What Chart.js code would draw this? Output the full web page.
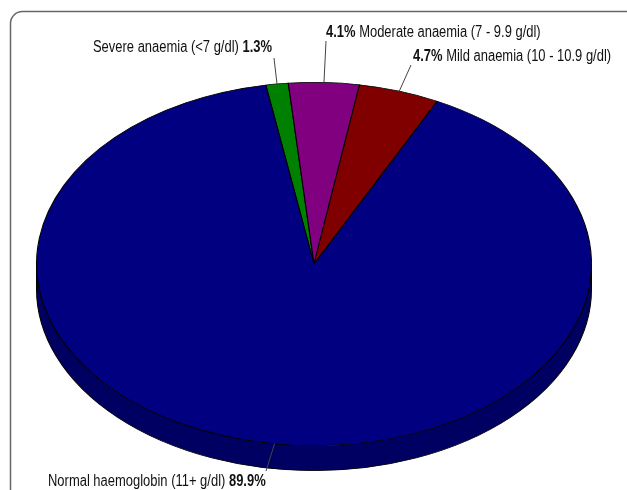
<!DOCTYPE html>
<html><head><meta charset="utf-8">
<script src="https://cdn.jsdelivr.net/npm/chart.js@4"></script>
<style>html,body{margin:0;padding:0;background:#fff;overflow:hidden}canvas{display:block}</style>
</head><body>
<canvas id="c" width="627" height="490"></canvas>
<script>
const categories = ["Severe anaemia (<7 g/dl)", "Moderate anaemia (7 - 9.9 g/dl)", "Mild anaemia (10 - 10.9 g/dl)", "Normal haemoglobin (11+ g/dl)"];
const percentages = [1.3, 4.1, 4.7, 89.9];
const sliceColors = ["#008000", "#800080", "#800000", "#000080"];
const sideColors = ["#005800", "#580058", "#580000", "#000062"];

const FONT = '"Liberation Sans Narrow", "Arial Narrow", "Liberation Sans", Arial, sans-serif';
const TEXT_SX = 0.81;
const ELLIPSE_SX = 278 / 182;
const DEPTH = 25;

const labelLayout = [
  {pctFirst: false, lx: 274, ly: 58, tx: 272, ty: 48, align: 'right'},
  {pctFirst: true,  lx: 326, ly: 41, tx: 326, ty: 33, align: 'left'},
  {pctFirst: true,  lx: 411, ly: 65, tx: 413, ty: 57, align: 'left'},
  {pctFirst: false, lx: 266, ly: 471, tx: 48, ty: 482, align: 'left'}
];

const pie3d = {
  id: 'pie3d',
  beforeDraw(chart) {
    const ctx = chart.ctx;
    ctx.save();
    ctx.fillStyle = '#fff';
    ctx.fillRect(0, 0, chart.width, chart.height);
    ctx.strokeStyle = '#666';
    ctx.lineWidth = 1.5;
    ctx.beginPath();
    ctx.roundRect(10.5, 11.5, 700, 600, 12);
    ctx.stroke();
    ctx.restore();
  },
  beforeDatasetsDraw(chart) {
    const ctx = chart.ctx;
    const meta = chart.getDatasetMeta(0);
    const cx = meta.data[0].x, cy = meta.data[0].y;
    ctx.save();
    ctx.translate(cx, cy); ctx.scale(ELLIPSE_SX, 1); ctx.translate(-cx, -cy);
    meta.data.forEach((arc, i) => {
      const s0 = arc.startAngle, e0 = arc.endAngle, R = arc.outerRadius;
      for (let k = -1; k <= 1; k++) {
        const s = Math.max(s0, 2 * Math.PI * k), e = Math.min(e0, Math.PI + 2 * Math.PI * k);
        if (e > s) {
          ctx.beginPath();
          ctx.arc(cx, cy, R, s, e);
          ctx.arc(cx, cy + DEPTH, R, e, s, true);
          ctx.closePath();
          ctx.fillStyle = sideColors[i];
          ctx.fill();
          ctx.lineWidth = 0.7;
          ctx.strokeStyle = '#000';
          ctx.stroke();
        }
      }
    });
  },
  afterDatasetsDraw(chart) {
    const ctx = chart.ctx;
    ctx.restore();
    const meta = chart.getDatasetMeta(0);
    ctx.save();
    meta.data.forEach((arc, i) => {
      const L = labelLayout[i];
      const mid = (arc.startAngle + arc.endAngle) / 2;
      const px = arc.x + arc.outerRadius * Math.cos(mid) * ELLIPSE_SX;
      const py = arc.y + arc.outerRadius * Math.sin(mid);
      ctx.strokeStyle = '#444';
      ctx.lineWidth = 1;
      ctx.beginPath();
      ctx.moveTo(px, py);
      ctx.lineTo(L.lx, L.ly);
      ctx.stroke();
      const pct = percentages[i].toFixed(1) + '%';
      const parts = L.pctFirst
        ? [[pct, 'bold'], [' ' + categories[i], 'normal']]
        : [[categories[i] + ' ', 'normal'], [pct, 'bold']];
      let total = 0;
      parts.forEach(p => { ctx.font = p[1] + ' 16px ' + FONT; p.w = ctx.measureText(p[0]).width; total += p.w; });
      const x0 = L.align === 'right' ? L.tx - total * TEXT_SX : L.tx;
      ctx.save();
      ctx.translate(x0, L.ty);
      ctx.scale(TEXT_SX, 1);
      ctx.fillStyle = '#111';
      ctx.textBaseline = 'middle';
      ctx.textAlign = 'left';
      let x = 0;
      parts.forEach(p => { ctx.font = p[1] + ' 16px ' + FONT; ctx.fillText(p[0], x, 0); x += p.w; });
      ctx.restore();
    });
    ctx.restore();
  }
};

new Chart(document.getElementById('c'), {
  type: 'pie',
  data: {
    labels: categories,
    datasets: [{
      data: percentages,
      backgroundColor: sliceColors,
      borderColor: '#000',
      borderWidth: 0.7,
      clip: false
    }]
  },
  options: {
    responsive: false,
    animation: false,
    events: [],
    rotation: -10,
    layout: {padding: {left: 132, right: 131, top: 82, bottom: 44}},
    plugins: {legend: {display: false}, tooltip: {enabled: false}}
  },
  plugins: [pie3d]
});
</script>
</body></html>
